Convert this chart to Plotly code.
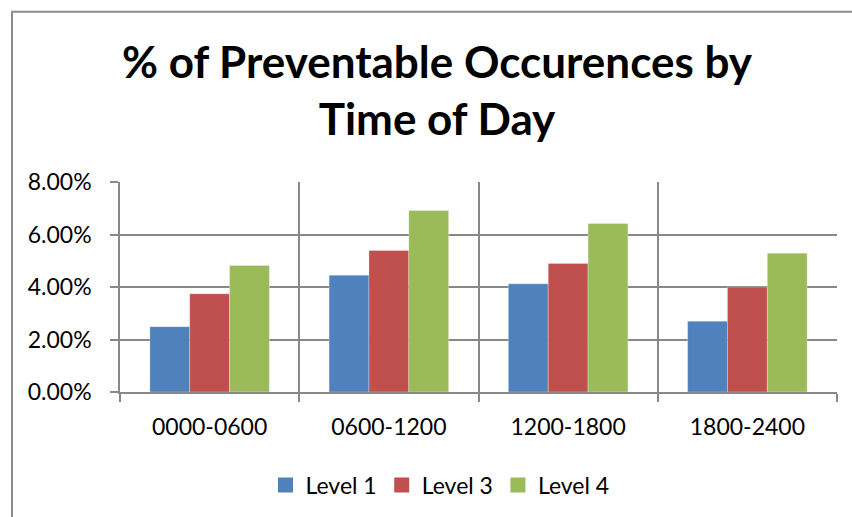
import plotly.graph_objects as go

# data
periods = ["0000-0600", "0600-1200", "1200-1800", "1800-2400"]
level_1 = [0.0249, 0.0445, 0.0412, 0.0270]
level_3 = [0.0374, 0.0539, 0.0490, 0.0400]
level_4 = [0.0482, 0.0691, 0.0642, 0.0529]

series = [
    ("Level 1", level_1, "#4F81BD"),
    ("Level 3", level_3, "#C0504D"),
    ("Level 4", level_4, "#9BBB59"),
]

font_family = "Lato, Open Sans, sans-serif"
grid_col = "#888888"

fig = go.Figure()
for name, vals, col in series:
    fig.add_trace(go.Bar(
        x=periods, y=vals, name=name, showlegend=False,
        marker=dict(color=col, line=dict(color="rgba(255,255,255,0.6)", width=0.5)),
    ))
# legend entries with square swatches like the Excel legend
for name, vals, col in series:
    fig.add_trace(go.Scatter(
        x=[None], y=[None], name=name, mode="markers",
        marker=dict(symbol="square", size=15, color=col),
    ))

# margins chosen so the plot area matches the reference
L, R, T, B = 120, 15, 182, 124
W, H = 852, 517
pw, ph = W - L - R, H - T - B

fig.update_layout(
    width=W, height=H,
    margin=dict(l=L, r=R, t=T, b=B),
    paper_bgcolor="white", plot_bgcolor="white",
    font=dict(family=font_family, size=23, color="black"),
    barmode="group", bargap=0.333, bargroupgap=0,
    title=dict(
        text="<b>% of Preventable Occurences by<br>Time of Day</b>",
        font=dict(family=font_family, size=44, color="black"),
        x=437 / W, xref="container", xanchor="center",
        y=1 - 78 / H, yref="container", yanchor="top",
    ),
    legend=dict(
        orientation="h", x=(440 - L) / pw, xanchor="center",
        y=-(485 - (H - B)) / ph, yanchor="middle",
        font=dict(size=23), itemwidth=30, traceorder="normal",
    ),
)

fig.update_xaxes(
    showline=True, linecolor=grid_col, linewidth=1.5,
    showgrid=True, gridcolor=grid_col, gridwidth=1.5,
    tickson="boundaries", ticks="outside", ticklen=8,
    tickcolor=grid_col, tickwidth=1.5, ticklabelstandoff=14,
)
fig.update_yaxes(
    range=[0, 0.08], dtick=0.02, tickformat=".2%",
    showline=True, linecolor=grid_col, linewidth=1.5,
    showgrid=True, gridcolor=grid_col, gridwidth=1.5,
    ticks="outside", ticklen=8, tickcolor=grid_col, tickwidth=1.5,
    ticklabelstandoff=14, zeroline=False,
)

# outer chart border (runs off the right and bottom edges)
fig.add_shape(
    type="rect", xref="paper", yref="paper",
    x0=(12 - L) / pw, x1=(W + 20 - L) / pw,
    y0=-(H + 20 - (H - B)) / ph, y1=((H - B) - 11) / ph,
    line=dict(color="#8c8c8c", width=2), layer="below",
)

fig.write_html("out.html", config={"displayModeBar": False},
               post_script="document.body.style.margin='0';")
